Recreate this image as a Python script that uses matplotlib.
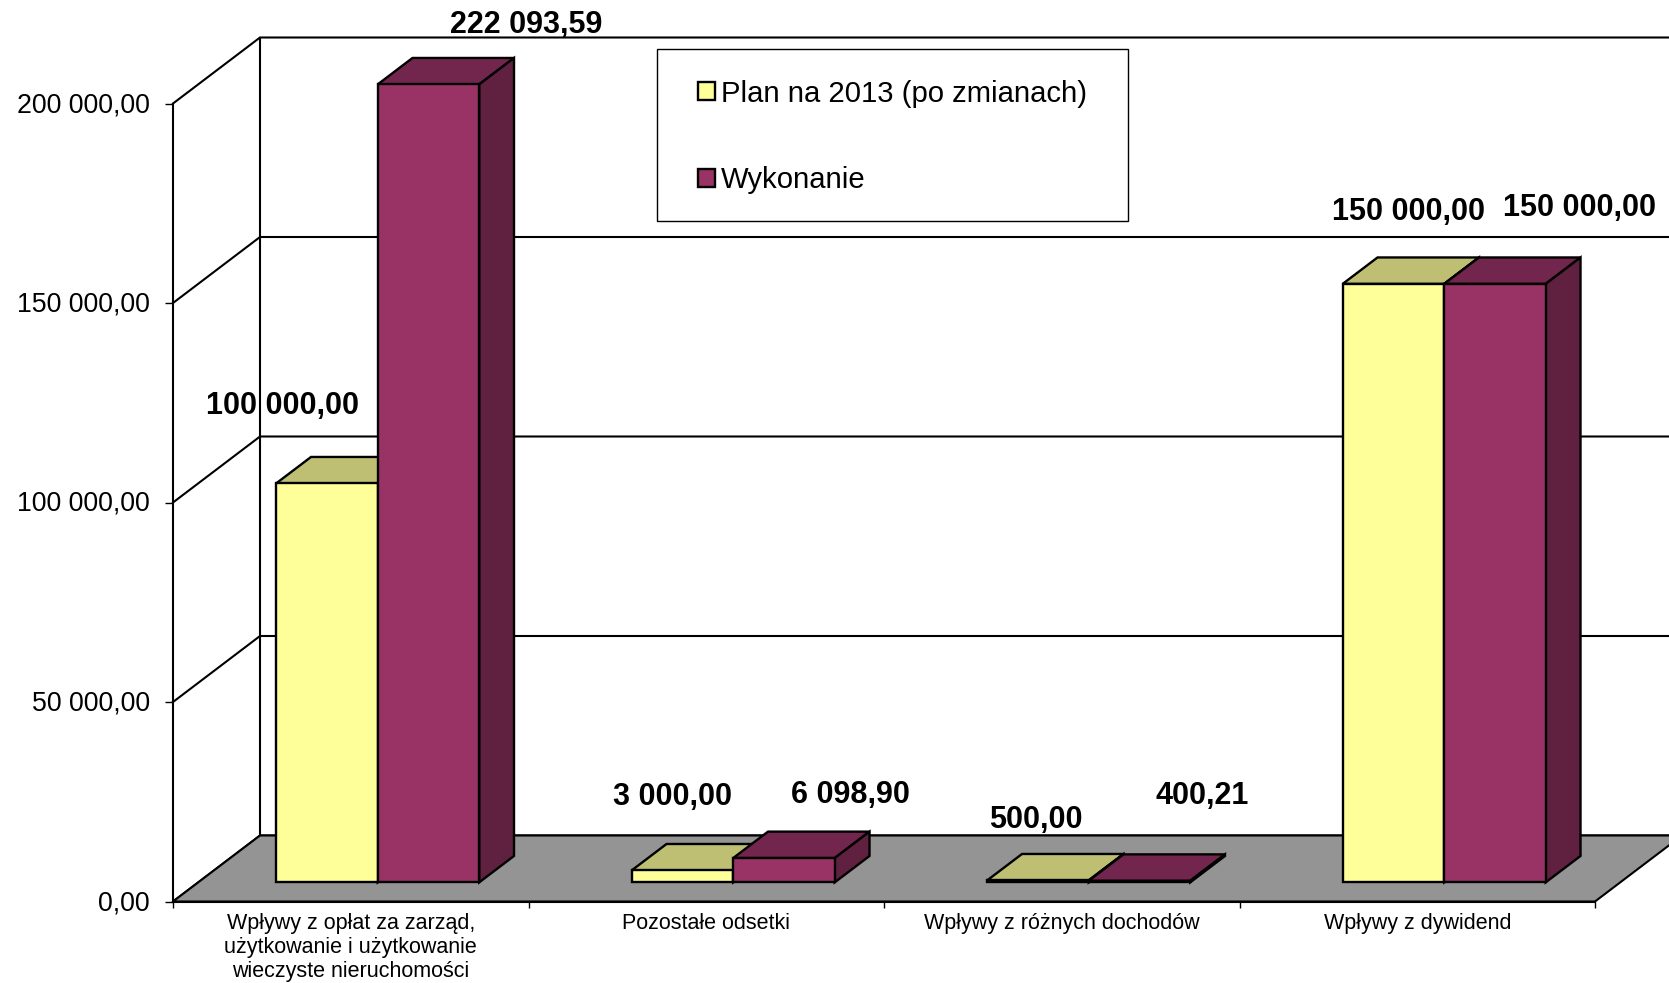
import numpy as np
import matplotlib
matplotlib.use('Agg')
from matplotlib import pyplot as plt
from matplotlib.patches import Rectangle
from matplotlib.transforms import ScaledTranslation

categories = ['Wpływy z opłat za zarząd,\nużytkowanie i użytkowanie\nwieczyste nieruchomości',
              'Pozostałe odsetki',
              'Wpływy z różnych dochodów',
              'Wpływy z dywidend']
plan = [100000.00, 3000.00, 500.00, 150000.00]
wykonanie = [222093.59, 6098.90, 400.21, 150000.00]
series_names = ['Plan na 2013 (po zmianach)', 'Wykonanie']
y_ticks = [0, 50000, 100000, 150000, 200000]

# data label offsets from the top of each bar, in pixels
plan_offsets = [(-44, 77), (-10, 73), (-2, 60), (15, 72)]
done_offsets = [(98, 59), (66, 63), (63, 85), (85, 76)]

W, H = 1669, 983
x0_px, y0_px = 173, 901.5
cat_px = 355.5
ymax = 200000
px_per_val = 798 / ymax

depth_x = 87 / cat_px
depth_y = 66 / px_per_val
bar_w = 101.5 / cat_px

plt.rcParams['font.family'] = ['Liberation Sans', 'DejaVu Sans']

fig = plt.figure(figsize=(W / 100, H / 100), dpi=100)
ax = fig.add_axes([0, 0, 1, 1])
ax.set_xlim(-x0_px / cat_px, (W - x0_px) / cat_px)
ax.set_ylim(-(H - y0_px) / px_per_val, y0_px / px_per_val)


def fmt(v):
    return f'{v:,.2f}'.replace(',', ' ').replace('.', ',')


# walls and grid
x_right = ax.get_xlim()[1]
for t in y_ticks:
    ax.plot([0, depth_x, x_right], [t, t + depth_y, t + depth_y], color='black', lw=1.5, zorder=1)
ax.plot([depth_x, depth_x], [depth_y, ymax + depth_y], color='black', lw=1.5, zorder=1)

# floor
ax.fill([0, 4, 4 + depth_x, depth_x], [0, 0, depth_y, depth_y],
        facecolor='#949494', edgecolor='black', lw=1.5, zorder=2)


def draw_bar(x, value, front, top, side, label_name, offset):
    height = min(value, ymax)
    base = 0.29 * depth_y
    left = x - bar_w / 2
    right = x + bar_w / 2
    t = base + height
    dx = 0.4 * depth_x
    dy = 0.4 * depth_y
    bars = ax.bar(x, height, bar_w, bottom=base, color=front, edgecolor='black', lw=1.7,
                  zorder=4, label=label_name)
    ax.fill([left, right, right + dx, left + dx], [t, t, t + dy, t + dy],
            facecolor=top, edgecolor='black', lw=1.7, zorder=3)
    ax.fill([right, right + dx, right + dx, right], [base, base + dy, t + dy, t],
            facecolor=side, edgecolor='black', lw=1.7, zorder=3)
    ax.annotate(fmt(value), (x, t), xytext=offset, textcoords='offset pixels',
                ha='center', va='center', fontsize=22, fontweight='bold', zorder=6)
    return bars


centers = np.arange(len(categories)) + 0.5
shift = 0.31 * depth_x
handles = []
for i, c in enumerate(centers):
    b1 = draw_bar(c + shift - bar_w / 2, plan[i], '#FFFF99', '#BFBF73', '#808050',
                  series_names[0], plan_offsets[i])
    b2 = draw_bar(c + shift + bar_w / 2, wykonanie[i], '#993366', '#73264D', '#60203F',
                  series_names[1], done_offsets[i])
    if i == 0:
        handles = [b1, b2]

# axes
for s in ['top', 'right']:
    ax.spines[s].set_visible(False)
ax.spines['left'].set_position(('data', 0))
ax.spines['bottom'].set_position(('data', 0))
ax.spines['left'].set_bounds(0, ymax)
ax.spines['bottom'].set_bounds(0, 4)
ax.spines['left'].set_linewidth(1.5)
ax.spines['bottom'].set_linewidth(1.5)

ax.set_yticks(y_ticks, [fmt(t) for t in y_ticks])
ax.tick_params(axis='y', length=5.8, width=1, pad=11, labelsize=19.3)
ax.set_xticks(np.arange(len(categories) + 1), [''] * (len(categories) + 1))
ax.tick_params(axis='x', which='major', length=4.5, width=1)
ax.set_xticks(centers, categories, minor=True)
ax.tick_params(axis='x', which='minor', length=0, pad=8.2, labelsize=15.5)

# y labels sit a touch above their ticks
nudge = ScaledTranslation(0, 1.5 / 100, fig.dpi_scale_trans)
for lab in ax.get_yticklabels():
    lab.set_transform(lab.get_transform() + nudge)

# legend
ax.add_patch(Rectangle((657 / W, 1 - 221 / H), 471 / W, 172 / H, transform=fig.transFigure,
                       facecolor='white', edgecolor='black', lw=1, zorder=5, clip_on=False))
leg = ax.legend(handles=handles, loc='upper left', bbox_to_anchor=(698 / W, 1 - 79.5 / H),
                bbox_transform=fig.transFigure, frameon=False, fontsize=21.1, borderpad=0,
                borderaxespad=0, handlelength=0.58, handleheight=0.58, handletextpad=0.2,
                labelspacing=2.0)
leg.set_zorder(10)

fig.savefig('out.png', dpi=100)
